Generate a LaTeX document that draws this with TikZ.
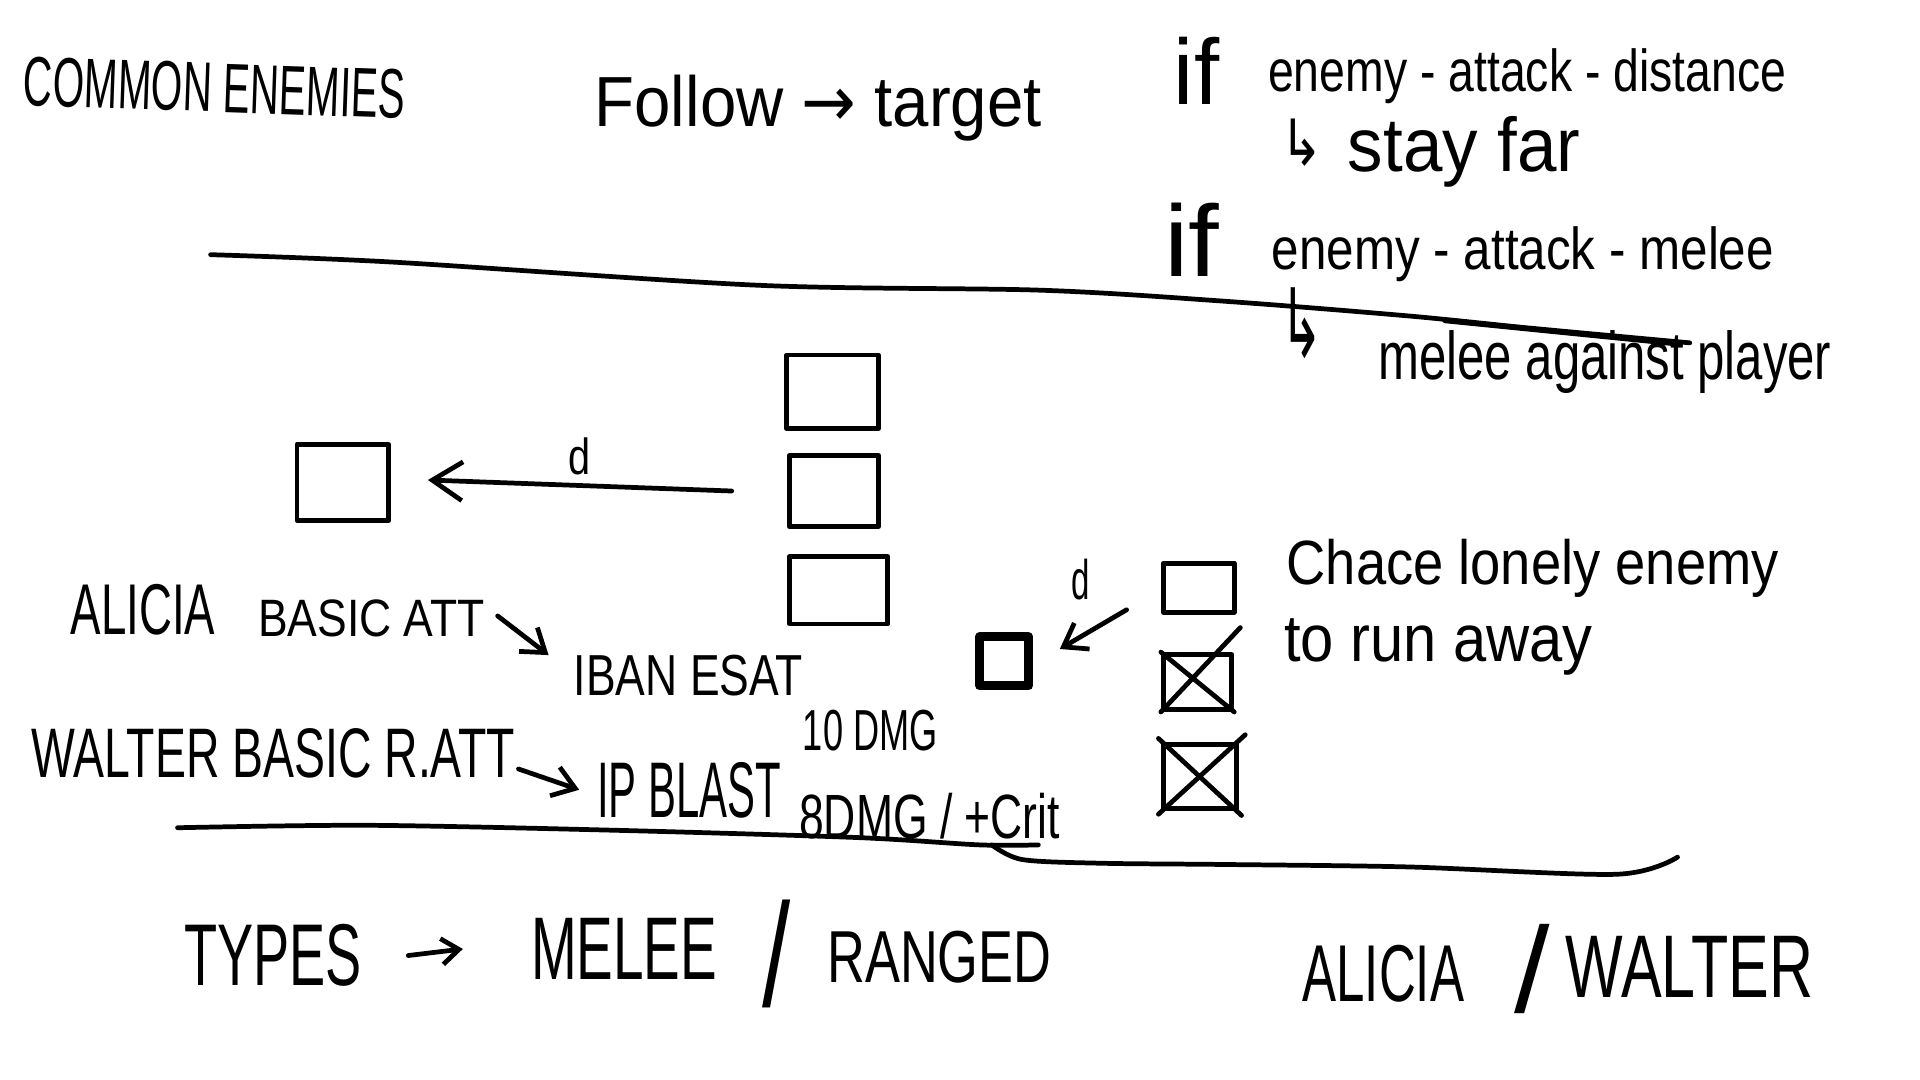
\documentclass[tikz,border=0pt]{standalone}
\usepackage{fontspec}
\setmainfont{Liberation Sans}
\newfontfamily\dejavu{DejaVu Sans}
\usetikzlibrary{arrows.meta,calc}
\newlength\hwu \setlength\hwu{0.01cm}
\newcommand\hw[3]{\resizebox{#1\hwu}{#2\hwu}{#3}}
\begin{document}
\begin{tikzpicture}[x=0.01cm,y=-0.01cm, line cap=round, line join=round,
  txt/.style={inner sep=0pt, anchor=base west},
  ink/.style={line width=1.1pt},
  harrow/.style={ink, -{Straight Barb[length=7pt,width=9pt]}},
  sarrow/.style={ink, -{Straight Barb[length=5pt,width=7pt]}},
  boxn/.style={draw, line width=1.1pt, inner sep=0pt},
]
\fill[white] (0,0) rectangle (1568,882);
\path[use as bounding box] (0,0) rectangle (1568,882);

% header texts
\node[txt, rotate=-2] (common) at (18,86) {\hw{312}{40}{COMMON ENEMIES}};
\node[txt] (follow) at (485,103) {\hw{365}{42}{Follow {\dejavu→} target}};
\node[txt] (if1) at (958,85) {\hw{37}{55}{if}};
\node[txt] (cond1) at (1035,75) {\hw{423}{35}{enemy - attack - distance}};
\node[txt] (ar1) at (1045,135) {\hw{35}{38}{\dejavu ↳}};
\node[txt] (stay) at (1100,140) {\hw{190}{45}{stay far}};
\node[txt] (if2) at (950,226) {\hw{45}{60}{if}};
\node[txt] (cond2) at (1038,220) {\hw{410}{35}{enemy - attack - melee}};
\node[txt] (ar2) at (1045,292) {\hw{35}{57}{\dejavu ↳}};
\node[txt] (meleetxt) at (1125,310) {\hw{370}{40}{melee against player}};

% separator 1
\draw[ink] plot[smooth] coordinates {(172,208) (320,214) (620,233) (850,237) (1000,246) (1150,258) (1250,268) (1380,280)};
\draw[ink] plot[smooth] coordinates {(1180,262) (1300,274) (1370,281)};

% boxes
\node[boxn, minimum width=0.75cm, minimum height=0.60cm] (m1) at (680,320) {};
\node[boxn, minimum width=0.73cm, minimum height=0.58cm] (m2) at (681,401) {};
\node[boxn, minimum width=0.80cm, minimum height=0.55cm] (m3) at (685,482) {};
\node[boxn, minimum width=0.75cm, minimum height=0.62cm] (lbox) at (280,394) {};
\node[boxn, line width=2pt, minimum width=0.40cm, minimum height=0.40cm] (sbox) at (820,540) {};
\node[boxn, minimum width=0.58cm, minimum height=0.40cm] (r1) at (979,480) {};
\node[boxn, minimum width=0.56cm, minimum height=0.45cm] (r2) at (978,557) {};
\node[boxn, minimum width=0.60cm, minimum height=0.52cm] (r3) at (980,634) {};
\draw[ink] (r2.north west) -- (r2.south east);
\draw[ink] (r2.south west) -- ($(r2.north east)+(5,-20)$);
\draw[ink] ($(r3.north west)+(-2,-3)$) -- ($(r3.south east)+(2,4)$);
\draw[ink] ($(r3.south west)+(-2,3)$) -- ($(r3.north east)+(5,-6)$);

% arrows with d
\draw[harrow] ($(m2.west)+(-45,0)$) -- node[above=2pt, inner sep=0pt] (dl) {\hw{18}{30}{d}} ($(lbox.east)+(30,-2)$);
\draw[sarrow] ($(r1.west)+(-28,18)$) -- ($(sbox.east)+(22,-10)$);
\node[txt] (ds) at (874,490) {\hw{15}{33}{d}};

% middle texts
\node[txt] (chace) at (1050,477) {\hw{402}{37}{Chace lonely enemy}};
\node[txt] (run) at (1048,540) {\hw{252}{35}{to run away}};
\node[txt] (alicia) at (57,518) {\hw{118}{41}{ALICIA}};
\node[txt] (basicatt) at (210,520) {\hw{185}{30}{BASIC ATT}};
\node[txt] (iban) at (468,568) {\hw{187}{33}{IBAN ESAT}};
\node[txt] (dmg1) at (655,613) {\hw{110}{33}{10 DMG}};
\node[txt] (walter) at (25,635) {\hw{395}{40}{WALTER BASIC R.ATT}};
\node[txt] (ipblast) at (487,668) {\hw{150}{45}{IP BLAST}};
\node[txt] (dmg2) at (652,685) {\hw{213}{37}{8DMG / +Crit}};
\draw[sarrow] ($(basicatt.base east)+(10,-17)$) -- ($(iban.base west)+(-20,-33)$);
\draw[sarrow] ($(walter.base east)+(2,-7)$) -- ($(ipblast.base west)+(-14,-23)$);

% separators 2 and 3
\draw[ink] plot[smooth] coordinates {(145,676) (300,674) (500,678) (700,684) (800,690) (848,690)};
\draw[ink] plot[smooth] coordinates {(810,690) (835,702) (900,705) (1000,706) (1150,708) (1320,714) (1370,700)};

% bottom
\node[txt] (types) at (150,805) {\hw{145}{50}{TYPES}};
\node[txt] (meleeT) at (433,800) {\hw{152}{50}{MELEE}};
\node[txt] (sl1) at (622,822) {\hw{23}{87}{/}};
\node[txt] (ranged) at (675,802) {\hw{183}{42}{RANGED}};
\draw[ink, -{Straight Barb[length=4pt,width=6pt]}] ($(types.east)+(37,0)$) -- ($(meleeT.west)+(-55,0)$);
\node[txt] (aliciaB) at (1063,818) {\hw{132}{46}{ALICIA}};
\node[txt] (sl2) at (1236,827) {\hw{29}{72}{/}};
\node[txt] (walterB) at (1278,815) {\hw{202}{50}{WALTER}};
\end{tikzpicture}
\end{document}
